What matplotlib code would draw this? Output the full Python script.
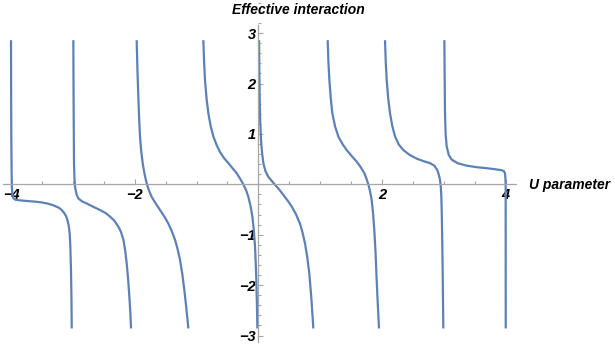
import matplotlib
matplotlib.use('Agg')
import matplotlib.pyplot as plt
from matplotlib.ticker import MultipleLocator, FuncFormatter

plt.rcParams['font.family'] = ['Liberation Sans', 'DejaVu Sans']

# Branches of the curve (one per interval between poles)
u_b1 = [-4.0, -3.998, -3.995, -3.99, -3.985, -3.975, -3.96, -3.93, -3.88, -3.8, -3.7, -3.6, -3.5, -3.4,
        -3.33, -3.27, -3.22, -3.18, -3.14, -3.11, -3.09, -3.07, -3.06, -3.05, -3.04, -3.03, -3.022, -3.018]
f_b1 = [2.86, 1.8, 0.9, 0.2, -0.08, -0.22, -0.28, -0.305, -0.315, -0.325, -0.335, -0.345, -0.36, -0.385,
        -0.41, -0.44, -0.47, -0.51, -0.57, -0.63, -0.70, -0.80, -0.88, -1.0, -1.25, -1.7, -2.3, -2.86]

u_b2 = [-2.992, -2.990, -2.987, -2.984, -2.981, -2.975, -2.965, -2.94, -2.911, -2.85, -2.776, -2.68, -2.561,
        -2.47, -2.399, -2.33, -2.264, -2.22, -2.183, -2.155, -2.129, -2.105, -2.086, -2.07, -2.059]
f_b2 = [2.86, 2.2, 1.5, 0.9, 0.41, 0.15, -0.05, -0.2, -0.28, -0.34, -0.38, -0.44, -0.51,
        -0.57, -0.64, -0.72, -0.84, -0.95, -1.10, -1.3, -1.57, -1.9, -2.23, -2.55, -2.86]

u_b3 = [-1.968, -1.955, -1.941, -1.928, -1.914, -1.895, -1.871, -1.84, -1.806, -1.77, -1.725, -1.66, -1.59,
        -1.52, -1.455, -1.40, -1.348, -1.305, -1.267, -1.23, -1.197, -1.165, -1.132]
f_b3 = [2.86, 2.25, 1.74, 1.3, 0.95, 0.66, 0.42, 0.2, 0.02, -0.12, -0.25, -0.38, -0.51,
        -0.64, -0.78, -0.93, -1.10, -1.29, -1.50, -1.78, -2.10, -2.45, -2.86]

u_b4 = [-0.890, -0.877, -0.863, -0.838, -0.809, -0.772, -0.728, -0.675, -0.620, -0.555, -0.485, -0.418, -0.350,
        -0.295, -0.243, -0.200, -0.162, -0.128, -0.097, -0.074, -0.054, -0.043, -0.033, -0.024, -0.016]
f_b4 = [2.86, 2.42, 2.07, 1.70, 1.41, 1.16, 0.95, 0.78, 0.64, 0.52, 0.42, 0.32, 0.22,
        0.11, 0.0, -0.11, -0.25, -0.42, -0.64, -0.90, -1.24, -1.55, -1.90, -2.35, -2.86]

u_b5 = [0.011, 0.015, 0.021, 0.030, 0.043, 0.060, 0.081, 0.115, 0.161, 0.215, 0.269, 0.335, 0.404,
        0.472, 0.539, 0.607, 0.673, 0.715, 0.754, 0.79, 0.824, 0.858, 0.889]
f_b5 = [2.86, 2.3, 1.74, 1.25, 0.88, 0.62, 0.42, 0.26, 0.15, 0.07, -0.01, -0.10, -0.21,
        -0.32, -0.44, -0.59, -0.78, -0.96, -1.17, -1.44, -1.77, -2.28, -2.86]

u_b6 = [1.121, 1.133, 1.148, 1.170, 1.196, 1.240, 1.293, 1.36, 1.428, 1.51, 1.590, 1.655, 1.714,
        1.748, 1.778, 1.806, 1.832, 1.855, 1.875, 1.895, 1.913, 1.932, 1.951]
f_b6 = [2.86, 2.42, 2.07, 1.72, 1.41, 1.15, 0.95, 0.80, 0.68, 0.56, 0.45, 0.34, 0.22,
        0.11, 0.0, -0.14, -0.31, -0.58, -0.91, -1.35, -1.90, -2.40, -2.86]

u_b7 = [2.048, 2.060, 2.075, 2.10, 2.129, 2.165, 2.210, 2.27, 2.344, 2.45, 2.560, 2.67, 2.776,
        2.845, 2.894, 2.918, 2.937, 2.95, 2.959, 2.967, 2.975, 2.983, 2.991]
f_b7 = [2.86, 2.42, 2.07, 1.70, 1.41, 1.16, 0.95, 0.79, 0.68, 0.58, 0.51, 0.46, 0.42,
        0.37, 0.28, 0.19, 0.09, -0.05, -0.25, -0.65, -1.24, -2.0, -2.86]

u_b8 = [3.008, 3.012, 3.018, 3.028, 3.045, 3.08, 3.126, 3.22, 3.369, 3.53, 3.692, 3.82, 3.935,
        3.97, 3.989, 3.995, 3.999, 4.0]
f_b8 = [2.86, 2.2, 1.41, 1.0, 0.75, 0.58, 0.49, 0.42, 0.37, 0.34, 0.32, 0.30, 0.28,
        0.26, 0.22, 0.12, -0.05, -2.86]

branches = [(u_b1, f_b1), (u_b2, f_b2), (u_b3, f_b3), (u_b4, f_b4),
            (u_b5, f_b5), (u_b6, f_b6), (u_b7, f_b7), (u_b8, f_b8)]

fig = plt.figure(figsize=(6.15, 3.45), dpi=100)
ax = fig.add_axes([0, 0, 1, 1])

line_color = '#5e81b5'
for u, f in branches:
    ax.plot(u, f, color=line_color, lw=1.6, solid_capstyle='butt', solid_joinstyle='round')

ax.set_xlim(-4.178, 5.767)
ax.set_ylim(-3.188, 3.657)

# Mathematica-like axes crossing at the origin
for side in ['top', 'right']:
    ax.spines[side].set_visible(False)
ax.spines['left'].set_position(('data', 0))
ax.spines['bottom'].set_position(('data', 0))
ax.spines['left'].set_bounds(-3.13, 3.16)
ax.spines['bottom'].set_bounds(-4.13, 4.17)
for side in ['left', 'bottom']:
    ax.spines[side].set_color('#a6a6a6')
    ax.spines[side].set_linewidth(0.9)

ax.xaxis.set_major_locator(MultipleLocator(2))
ax.xaxis.set_minor_locator(MultipleLocator(0.5))
ax.yaxis.set_major_locator(MultipleLocator(1))
ax.yaxis.set_minor_locator(MultipleLocator(0.2))

fmt = FuncFormatter(lambda v, p: '' if abs(v) < 1e-9 else '\u2212%d' % abs(round(v)) if v < 0 else '%d' % round(v))
ax.xaxis.set_major_formatter(fmt)
ax.yaxis.set_major_formatter(fmt)

ax.tick_params(which='both', direction='in', color='#a6a6a6', width=0.8)
ax.tick_params(which='major', length=3.5)
ax.tick_params(which='minor', length=2)
ax.tick_params(axis='x', pad=3)
ax.tick_params(axis='y', pad=2)
for lab in ax.get_xticklabels() + ax.get_yticklabels():
    lab.set_fontsize(10.5)
    lab.set_fontweight('bold')
    lab.set_fontstyle('italic')

ax.text(0.377, 0.971, 'Effective interaction', transform=ax.transAxes,
        ha='left', va='center', fontsize=10, fontweight='bold', fontstyle='italic')
ax.text(0.86, 0.464, 'U parameter', transform=ax.transAxes,
        ha='left', va='center', fontsize=10, fontweight='bold', fontstyle='italic')

plt.savefig('out.png', dpi=100)
